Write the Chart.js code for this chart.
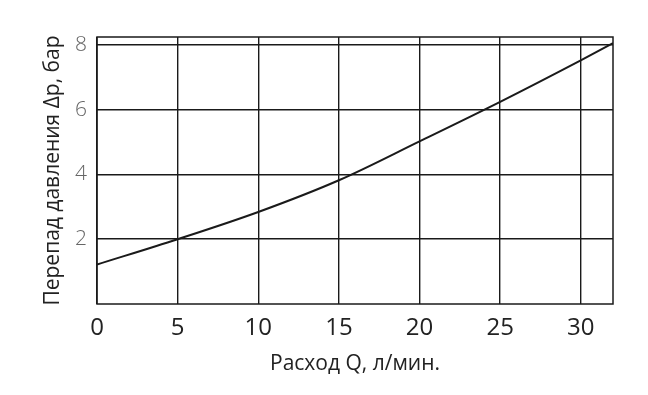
<!DOCTYPE html>
<html>
<head>
<meta charset="utf-8">
<script src="https://cdn.jsdelivr.net/npm/chart.js@4"></script>
<style>
  html, body { margin: 0; padding: 0; background: #fff; }
  #wrap { width: 648px; height: 395px; }
</style>
</head>
<body>
<div id="wrap"><canvas id="myChart" width="648" height="395"></canvas></div>
<script>
// values
var flow     = [0, 5, 10, 15, 20, 25, 30, 32];
var pressure = [1.22, 2.0, 2.84, 3.82, 5.02, 6.24, 7.52, 8.05];
var xTicks   = [0, 5, 10, 15, 20, 25, 30];
var yTicks   = [2, 4, 6, 8];

var ink = '#1a1a1a';

// frame around the plot area
const framePlugin = {
    id: 'frame',
    afterDraw(chart) {
        const a = chart.chartArea, ctx = chart.ctx;
        ctx.save();
        ctx.strokeStyle = ink;
        ctx.lineWidth = 1.5;
        ctx.strokeRect(a.left, a.top, a.right - a.left, a.bottom - a.top);
        ctx.restore();
    }
};

const data = {
    datasets: [{
        data: flow.map((q, i) => ({x: q, y: pressure[i]})),
        borderColor: ink, borderWidth: 2, pointRadius: 0,
        cubicInterpolationMode: 'monotone', fill: false
    }]
};

const config = {
    type: 'line',
    data: data,
    options: {
        responsive: false, animation: false,
        layout: {padding: {left: 40, right: 35, top: 37, bottom: 18}},
        plugins: {legend: {display: false}, tooltip: {enabled: false}},
        scales: {
            x: {
                type: 'linear', min: 0, max: 32,
                afterBuildTicks: s => { s.ticks = xTicks.map(v => ({value: v})); },
                afterFit: s => { s.height = 73; },
                grid: {color: ink, lineWidth: 1.4, drawTicks: false},
                border: {display: false},
                ticks: {color: '#222', padding: 10, font: {family: 'Open Sans', size: 24}},
                title: {display: true, text: 'Расход Q, л/мин.', color: '#222', padding: 0,
                        font: {family: 'Open Sans', size: 21}}
            },
            y: {
                min: 0, max: 8.24,
                afterBuildTicks: s => { s.ticks = yTicks.map(v => ({value: v})); },
                afterFit: s => { s.width = 57; },
                grid: {color: ink, lineWidth: 1.4, drawTicks: false},
                border: {display: false},
                ticks: {color: '#666', padding: 10, font: {family: 'Open Sans', size: 21, weight: 300}},
                title: {display: true, text: 'Перепад давления Δp, бар', color: '#222', padding: 0,
                        font: {family: 'Open Sans', size: 21}}
            }
        }
    },
    plugins: [framePlugin]
};
const myChart = new Chart(document.querySelector('#myChart'), config);
</script>
</body>
</html>
